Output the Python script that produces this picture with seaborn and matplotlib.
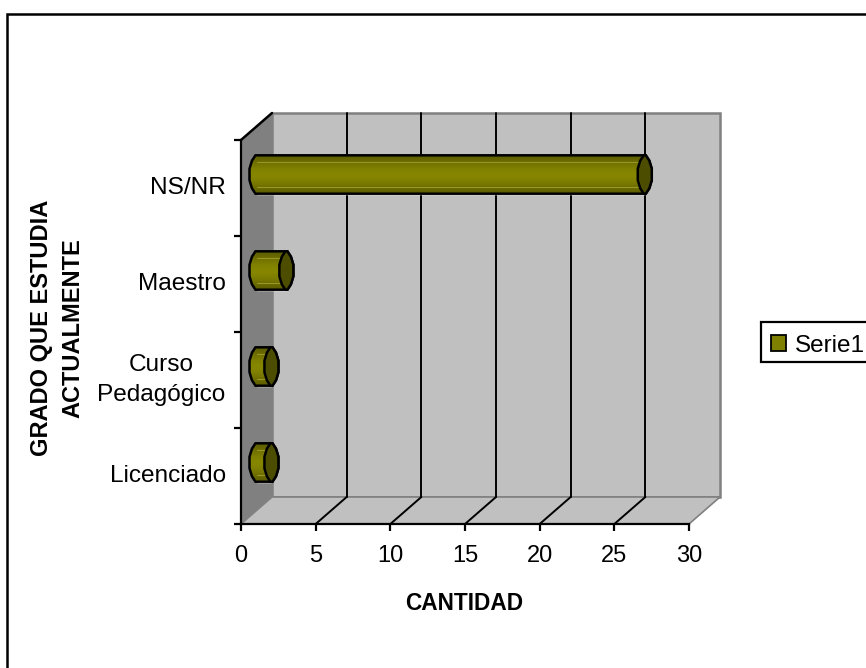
import numpy as np
import pandas as pd
import matplotlib
matplotlib.use("Agg")
import matplotlib.pyplot as plt
from matplotlib.patches import Polygon, Patch, Rectangle
import seaborn as sns

categories = ["NS/NR", "Maestro", "Curso\nPedagógico", "Licenciado"]
values = [26, 2, 1, 1]
x_ticks = [0, 5, 10, 15, 20, 25, 30]
series_name = "Serie1"
x_label = "CANTIDAD"
y_label = "GRADO QUE ESTUDIA\nACTUALMENTE"

W, H = 866, 668
sns.set_theme(style="white")
plt.rcParams["font.family"] = ["Liberation Sans", "DejaVu Sans"]

# front plane of the fake 3d box, in pixels
left, right, top, bottom = 241, 689, 140, 524
depth_px_x, depth_px_y = 31, 27

fig = plt.figure(figsize=(W / 100, H / 100), dpi=100)
fig.patch.set_facecolor("white")
# outer border runs off the picture on the right and at the bottom
fig.add_artist(Rectangle((7 / W, 1 - 700 / H), 900 / W, 686 / H, transform=fig.transFigure,
                         facecolor="none", edgecolor="black", linewidth=1.8))

ax = fig.add_axes([left / W, 1 - bottom / H, (right - left) / W, (bottom - top) / H])
ax.set_xlim(0, 30)
ax.set_ylim(3.5, -0.5)
dx = depth_px_x * 30 / (right - left)
dy = depth_px_y * 4 / (bottom - top)
x_max, y_top, y_bot = 30, -0.5, 3.5

# walls and floor
ax.add_patch(Polygon([(0, y_top), (dx, y_top - dy), (dx, y_bot - dy), (0, y_bot)], closed=True,
                     facecolor="#808080", edgecolor="none", clip_on=False, zorder=1))
ax.add_patch(Polygon([(dx, y_top - dy), (x_max + dx, y_top - dy), (x_max + dx, y_bot - dy), (dx, y_bot - dy)],
                     closed=True, facecolor="#c0c0c0", edgecolor="#808080", linewidth=1.8, clip_on=False, zorder=1))
ax.add_patch(Polygon([(0, y_bot), (dx, y_bot - dy), (x_max + dx, y_bot - dy), (x_max, y_bot)], closed=True,
                     facecolor="#c0c0c0", edgecolor="#808080", linewidth=1.2, clip_on=False, zorder=1))

# grid lines on back wall and floor
for t in x_ticks[1:-1]:
    ax.plot([t + dx, t + dx], [y_top - dy, y_bot - dy], color="black", lw=1.4, clip_on=False, zorder=2)
for t in x_ticks[1:-1]:
    ax.plot([t, t + dx], [y_bot, y_bot - dy], color="black", lw=1.4, clip_on=False, zorder=2)
ax.plot([0, dx], [y_top, y_top - dy], color="black", lw=1.8, clip_on=False, zorder=2)

ax.patch.set_visible(False)
for s in ["top", "right"]:
    ax.spines[s].set_visible(False)
for s in ["left", "bottom"]:
    ax.spines[s].set_color("black")
    ax.spines[s].set_linewidth(1.6)
    ax.spines[s].set_zorder(3)
ax.set_xticks(x_ticks)
ax.set_yticks([-0.5, 0.5, 1.5, 2.5, 3.5])
ax.set_yticklabels([])
ax.tick_params(axis="both", length=4.8, width=1.6, color="black", left=True, bottom=True)
ax.tick_params(axis="x", labelsize=17, pad=10.5, labelcolor="black")

for i, c in enumerate(categories):
    if "\n" in c:
        ax.text(-5.36, i, c, ha="center", va="center", fontsize=17.6, color="black", linespacing=1.42, clip_on=False)
    else:
        ax.text(-1.0, i, c, ha="right", va="center", fontsize=17.6, color="black", clip_on=False)

fig.text(464 / W, 1 - 604 / H, x_label, ha="center", va="center", fontsize=16.3, fontweight="bold", color="black")
fig.text(57.5 / W, 1 - 328 / H, y_label, ha="center", va="center", rotation=90, fontsize=17,
         fontweight="bold", color="black", linespacing=1.47)

# bars sit half way into the box depth
ax2 = fig.add_axes([(left + depth_px_x / 2) / W, 1 - (bottom - depth_px_y / 2) / H,
                    (right - left) / W, (bottom - top) / H])
df = pd.DataFrame({"grado": categories, "cantidad": values})
sns.barplot(data=df, x="cantidad", y="grado", orient="h", color="#808000", width=0.4, saturation=1, ax=ax2)
ax2.set_xlim(0, 30)
ax2.set_ylim(3.5, -0.5)
ax2.axis("off")
ax2.patch.set_visible(False)

cap_w = 7 * 30 / (right - left)
gradient = np.array([0.0, 0.3, 0.6, 0.85, 1.0, 1.0, 0.85, 0.6, 0.3, 0.0])[:, None]
cmap = matplotlib.colors.LinearSegmentedColormap.from_list("olive", ["#5f5f00", "#858500"])
# end cap outline, angular like the original cylinder
prof_x = np.array([0.15, 0.65, 1.0, 1.0, 0.65, 0.15])
prof_y = np.array([-1.0, -0.72, -0.3, 0.3, 0.72, 1.0])
for bar in list(ax2.patches):
    y0 = bar.get_y()
    h = bar.get_height()
    v = bar.get_width()
    yc = y0 + h / 2
    px = cap_w * prof_x
    py = yc + h / 2 * prof_y
    left_end = np.column_stack([-px[::-1], py[::-1]])
    right_end = np.column_stack([v + px, py])
    outline = Polygon(np.vstack([left_end, right_end]), closed=True, facecolor="none", edgecolor="black",
                      linewidth=1.8, clip_on=False, zorder=5)
    ax2.add_patch(outline)
    img = ax2.imshow(gradient, extent=(-cap_w, v + cap_w, y0 + h, y0), cmap=cmap, aspect="auto", zorder=4,
                     interpolation="bilinear")
    img.set_clip_box(fig.bbox)
    img.set_clip_path(outline)
    for frac in [0.17, 0.83]:
        ax2.plot([0, v], [y0 + h * frac, y0 + h * frac], color="#9a9a28", lw=0.7, zorder=4.5, clip_on=False)
    cap = np.vstack([np.column_stack([v - px[::-1], py[::-1]]), right_end])
    ax2.add_patch(Polygon(cap, closed=True, facecolor="#4d4d00", edgecolor="black", linewidth=1.8,
                          clip_on=False, zorder=6))
ax2.set_xlim(0, 30)
ax2.set_ylim(3.5, -0.5)

fig.add_artist(Rectangle((761 / W, 1 - 362 / H), 120 / W, 40 / H, transform=fig.transFigure,
                         facecolor="white", edgecolor="black", linewidth=1.6))
fig.legend(handles=[Patch(facecolor="#808000", edgecolor="black", linewidth=1.3, label=series_name)],
           loc="center left", bbox_to_anchor=(771 / W, 1 - 345.5 / H), frameon=False, fontsize=17.5,
           handlelength=0.62, handleheight=0.62, handletextpad=0.36, borderpad=0, borderaxespad=0,
           labelcolor="black")

fig.savefig("out.png", dpi=100)
